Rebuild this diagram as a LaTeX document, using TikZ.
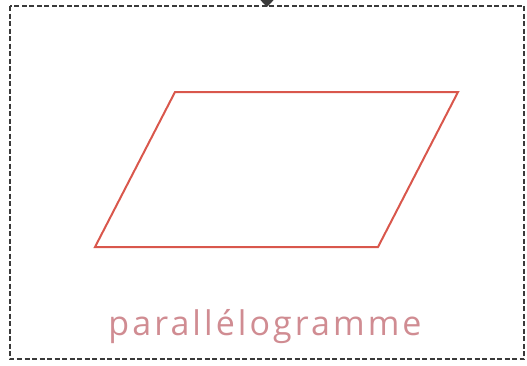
\documentclass[tikz,border=0pt]{standalone}
\usepackage{fontspec}
\setmainfont{Open Sans}
\newfontfamily\captionfont[LetterSpace=9]{Open Sans}
\usetikzlibrary{
  positioning,
  arrows.meta
}
\definecolor{paracol}{HTML}{D9574C}
\definecolor{labelcol}{HTML}{D08C92}
\definecolor{framecol}{HTML}{3A3A3A}

\begin{document}
\begin{tikzpicture}[
  x=1pt, y=-1pt,
  box/.style={draw=framecol, line width=1.5pt, dash pattern=on 5pt off 2.5pt},
  para/.style={draw=paracol, line width=2pt, line join=miter},
  caption/.style={text=labelcol, font=\captionfont\fontsize{34}{38}\selectfont, inner sep=0pt, anchor=base},
  arr/.style={-{Triangle[length=7pt, width=13pt]}, framecol, line width=1.5pt}
]
  \useasboundingbox (0,0) rectangle (527,365);

  % frame
  \draw[box] (10,6) rectangle (524,359);

  % parallelogram
  \coordinate (tl) at (175,92);
  \coordinate (tr) at (458,92);
  \coordinate (br) at (378,247);
  \coordinate (bl) at (95,247);
  \draw[para] (tl) -- (tr) -- (br) -- (bl) -- cycle;

  \node[caption] (lbl) at (265,335) {parallélogramme};

  % incoming arrow
  \coordinate (top) at (267,-20);
  \coordinate (entry) at (267,7);
  \draw[arr] (top) -- (entry);
\end{tikzpicture}
\end{document}
